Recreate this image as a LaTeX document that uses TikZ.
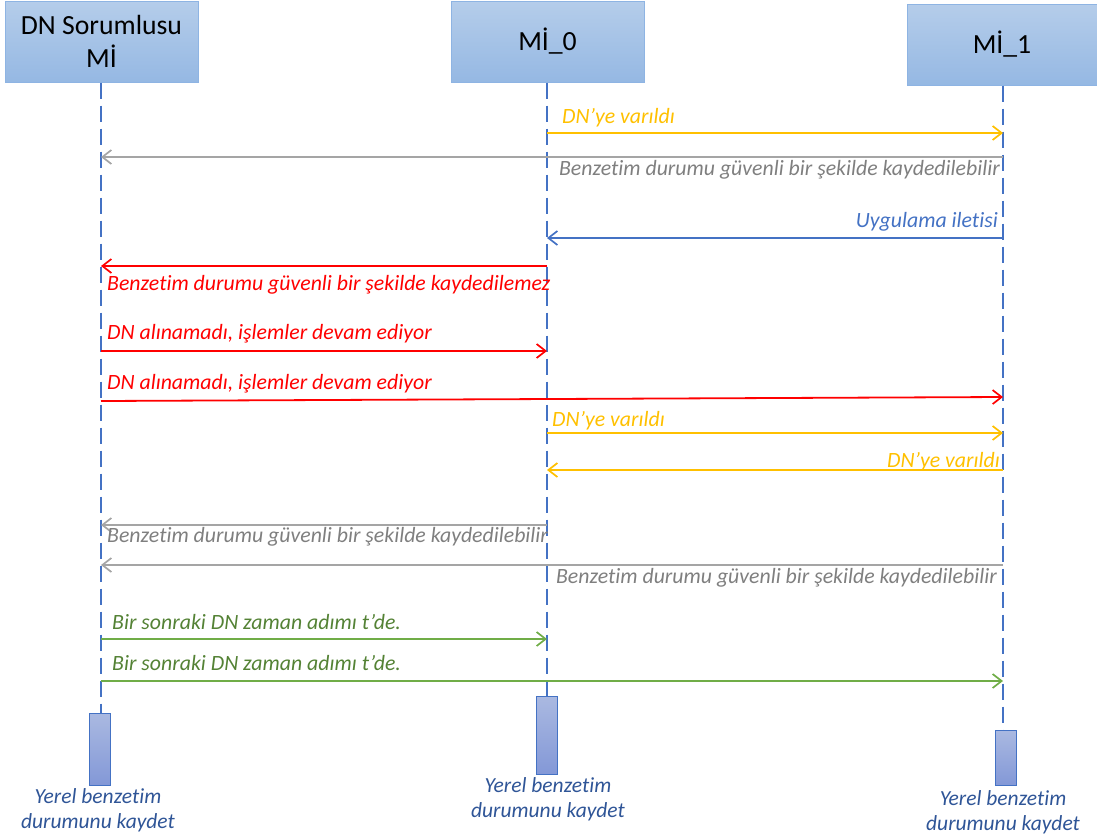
\documentclass[tikz,border=0pt]{standalone}
\usepackage{fontspec}
\setmainfont{Carlito}[Ligatures={NoCommon}]
\usetikzlibrary{arrows.meta}
\definecolor{lifeblue}{HTML}{4472C4}
\definecolor{boxtop}{HTML}{B5CDEA}
\definecolor{boxbot}{HTML}{95B8E3}
\definecolor{boxedge}{HTML}{8EB4E3}
\definecolor{bartop}{HTML}{AAB9E1}
\definecolor{barbot}{HTML}{8398D7}
\definecolor{msgyellow}{HTML}{FFC000}
\definecolor{msggray}{HTML}{A5A5A5}
\definecolor{txtgray}{HTML}{7F7F7F}
\definecolor{msgred}{HTML}{FF0000}
\definecolor{msggreen}{HTML}{70AD47}
\definecolor{txtgreen}{HTML}{548235}
\definecolor{notecol}{HTML}{2F5597}
\begin{document}
\begin{tikzpicture}[x=1pt,y=-1pt,
  actor/.style={draw=boxedge,line width=1pt,top color=boxtop,bottom color=boxbot,
    minimum height=81pt,align=center,font=\fontsize{27.7}{33}\selectfont},
  lifeline/.style={draw=lifeblue,line width=2pt,dash pattern=on 16pt off 7pt},
  actbar/.style={draw=lifeblue,line width=0.8pt,top color=bartop,bottom color=barbot,
    minimum width=21pt,inner sep=0pt},
  msg/.style={line width=1.8pt,-{Straight Barb[length=9pt,width=14pt,line width=1.7pt]}},
  lbl/.style={inner sep=0pt,font=\fontsize{21.8}{24}\selectfont\itshape},
  note/.style={inner sep=0pt,align=center,text=notecol,font=\fontsize{21.5}{25}\selectfont\itshape}]
\useasboundingbox (0,0) rectangle (1097,838);

% participants
\node[actor,minimum width=193pt] (A) at (101.5,41.5) {DN Sorumlusu\\Mİ};
\node[actor,minimum width=193pt] (B) at (547.5,41.5) {Mİ\_0};
\node[actor,minimum width=190pt] (C) at (1002,44.5) {Mİ\_1};

% activation bars
\node[actbar,minimum height=72pt] (barA) at (99.5,749) {};
\node[actbar,minimum height=78pt] (barB) at (546.5,735) {};
\node[actbar,minimum height=55pt] (barC) at (1005.5,757.5) {};

% lifelines
\draw[lifeline] (A.south -| 101,0) -- (barA.north -| 101,0);
\draw[lifeline] (B.south -| 547,0) -- (barB.north -| 547,0);
\draw[lifeline] (C.south -| 1003,0) -- (barC.north -| 1003,0);

% message end points on the lifelines
\foreach \n/\y in {1/133,2/157,3/238,4/266,5/351,7/433,8/470,9/525,10/565,11/639,12/681}{
  \coordinate (a\n) at (101,\y);
  \coordinate (b\n) at (547,\y);
  \coordinate (c\n) at (1003,\y);
}
\coordinate (a6) at (101,401);
\coordinate (c6) at (1003,397);

% messages
\draw[msg,msgyellow] (b1) -- (c1);
\node[lbl,text=msgyellow,anchor=west] (t1) at (562,118) {DN’ye varıldı};

\draw[msg,msggray] (c2) -- (a2);
\node[lbl,text=txtgray,anchor=east] (t2) at (1000,170) {Benzetim durumu güvenli bir şekilde kaydedilebilir};

\draw[msg,lifeblue] (c3) -- (b3);
\node[lbl,text=lifeblue,anchor=east] (t3) at (998,222) {Uygulama iletisi};

\draw[msg,msgred] (b4) -- (a4);
\node[lbl,text=msgred,anchor=west] (t4) at (107,285) {Benzetim durumu güvenli bir şekilde kaydedilemez};

\draw[msg,msgred] (a5) -- (b5);
\node[lbl,text=msgred,anchor=west] (t5) at (107,334) {DN alınamadı, işlemler devam ediyor};

\draw[msg,msgred] (a6) -- (c6);
\node[lbl,text=msgred,anchor=west] (t6) at (107,384) {DN alınamadı, işlemler devam ediyor};

\draw[msg,msgyellow] (b7) -- (c7);
\node[lbl,text=msgyellow,anchor=west] (t7) at (552,421) {DN’ye varıldı};

\draw[msg,msgyellow] (c8) -- (b8);
\node[lbl,text=msgyellow,anchor=east] (t8) at (1000,462) {DN’ye varıldı};

\draw[msg,msggray] (b9) -- (a9);
\node[lbl,text=txtgray,anchor=west] (t9) at (107,537) {Benzetim durumu güvenli bir şekilde kaydedilebilir};

\draw[msg,msggray] (c10) -- (a10);
\node[lbl,text=txtgray,anchor=east] (t10) at (997,578) {Benzetim durumu güvenli bir şekilde kaydedilebilir};

\draw[msg,msggreen] (a11) -- (b11);
\node[lbl,text=txtgreen,anchor=west] (t11) at (112,622) {Bir sonraki DN zaman adımı t’de.};

\draw[msg,msggreen] (a12) -- (c12);
\node[lbl,text=txtgreen,anchor=west] (t12) at (112,663) {Bir sonraki DN zaman adımı t’de.};

% notes under the bars
\node[note] (nA) at (98,810) {Yerel benzetim\\durumunu kaydet};
\node[note] (nB) at (548,799) {Yerel benzetim\\durumunu kaydet};
\node[note] (nC) at (1003,812) {Yerel benzetim\\durumunu kaydet};
\end{tikzpicture}
\end{document}
